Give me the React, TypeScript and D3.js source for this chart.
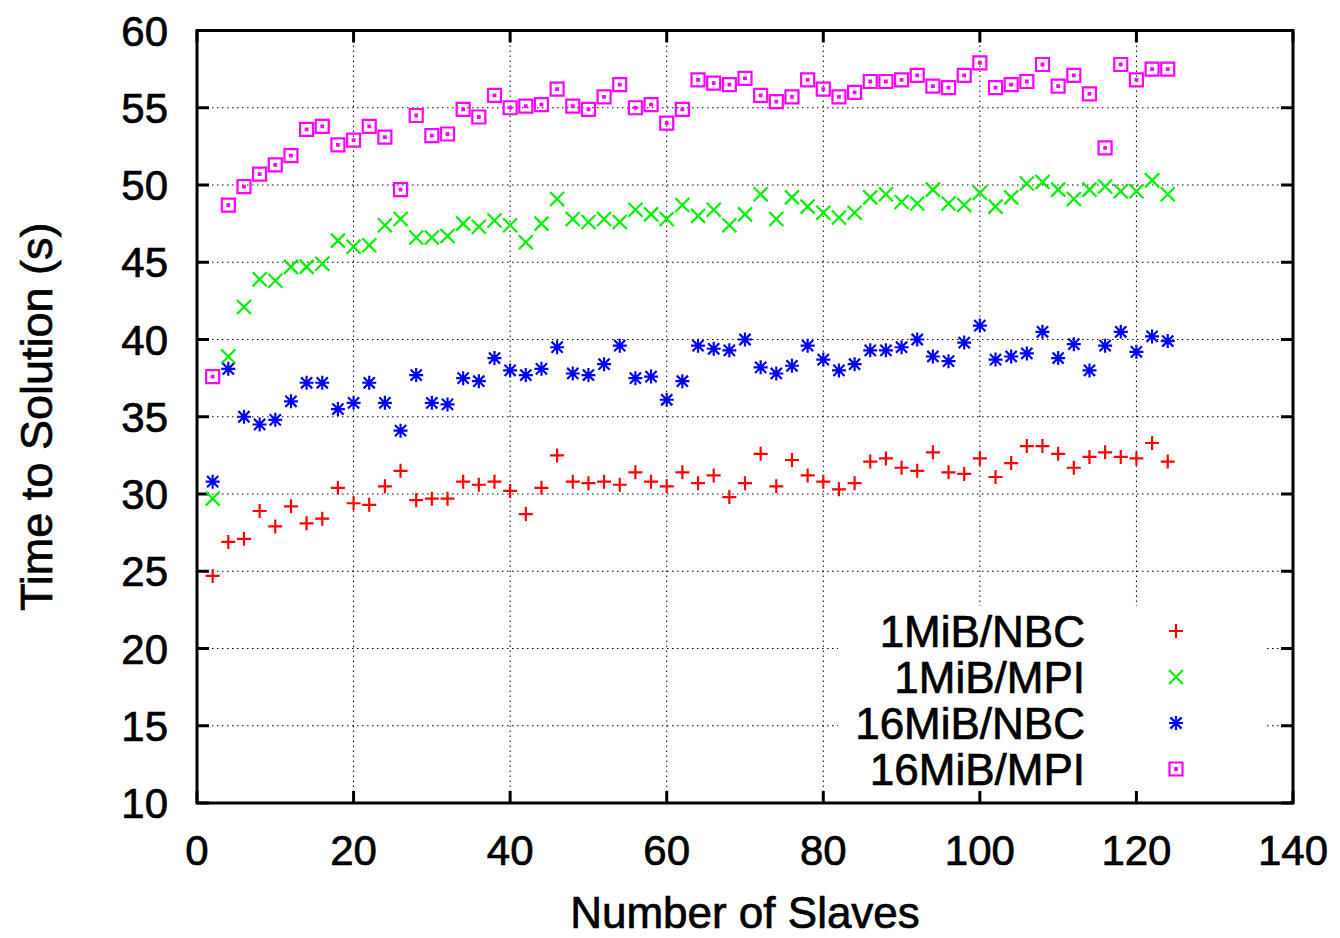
import React, { useEffect, useRef } from 'react';
import * as d3 from 'd3';

// number of slaves on the x axis
const slaves = [
  2, 4, 6, 8, 10, 12, 14, 16, 18, 20, 22, 24, 26, 28, 30, 32, 34, 36, 38, 40, 42,
  44, 46, 48, 50, 52, 54, 56, 58, 60, 62, 64, 66, 68, 70, 72, 74, 76, 78, 80, 82,
  84, 86, 88, 90, 92, 94, 96, 98, 100, 102, 104, 106, 108, 110, 112, 114, 116,
  118, 120, 122, 124,
];

const nbc1 = [
  24.7, 26.9, 27.1, 28.9, 27.9, 29.2, 28.1, 28.4, 30.4, 29.4, 29.3, 30.5, 31.5,
  29.6, 29.7, 29.7, 30.8, 30.6, 30.8, 30.2, 28.7, 30.4, 32.5, 30.8, 30.7, 30.8,
  30.6, 31.4, 30.8, 30.5, 31.4, 30.7, 31.2, 29.8, 30.7, 32.6, 30.5, 32.2, 31.2,
  30.8, 30.3, 30.7, 32.1, 32.3, 31.7, 31.5, 32.7, 31.4, 31.3, 32.3, 31.1, 32.0,
  33.1, 33.1, 32.6, 31.7, 32.4, 32.7, 32.4, 32.3, 33.3, 32.1,
];

const mpi1 = [
  29.7, 38.9, 42.1, 43.9, 43.8, 44.7, 44.7, 44.9, 46.4, 46.0, 46.1, 47.4, 47.8,
  46.6, 46.6, 46.7, 47.5, 47.3, 47.7, 47.4, 46.3, 47.5, 49.1, 47.8, 47.6, 47.8,
  47.6, 48.4, 48.1, 47.8, 48.7, 48.0, 48.4, 47.4, 48.1, 49.4, 47.8, 49.2, 48.6,
  48.2, 47.9, 48.2, 49.2, 49.4, 48.9, 48.8, 49.7, 48.8, 48.7, 49.5, 48.6, 49.2,
  50.1, 50.2, 49.7, 49.1, 49.7, 49.9, 49.6, 49.6, 50.3, 49.4,
];

const nbc16 = [
  30.8, 38.1, 35.0, 34.5, 34.8, 36.0, 37.2, 37.2, 35.5, 35.9, 37.2, 35.9, 34.1,
  37.7, 35.9, 35.8, 37.5, 37.3, 38.8, 38.0, 37.7, 38.1, 39.5, 37.8, 37.7, 38.4,
  39.6, 37.5, 37.6, 36.1, 37.3, 39.6, 39.4, 39.3, 40.0, 38.2, 37.8, 38.3, 39.6,
  38.7, 38.0, 38.4, 39.3, 39.3, 39.5, 40.0, 38.9, 38.6, 39.8, 40.9, 38.7, 38.9,
  39.1, 40.5, 38.8, 39.7, 38.0, 39.6, 40.5, 39.2, 40.2, 39.9,
];

const mpi16 = [
  37.6, 48.7, 49.9, 50.7, 51.3, 51.9, 53.6, 53.8, 52.6, 52.9, 53.8, 53.1, 49.7,
  54.5, 53.2, 53.3, 54.9, 54.4, 55.8, 55.0, 55.1, 55.2, 56.2, 55.1, 54.9, 55.7,
  56.5, 55.0, 55.2, 54.0, 54.9, 56.8, 56.6, 56.5, 56.9, 55.8, 55.4, 55.7, 56.8,
  56.2, 55.7, 56.0, 56.7, 56.7, 56.8, 57.1, 56.4, 56.3, 57.1, 57.9, 56.3, 56.5,
  56.7, 57.8, 56.4, 57.1, 55.9, 52.4, 57.8, 56.8, 57.5, 57.5,
];

const xTicks = [0, 20, 40, 60, 80, 100, 120, 140];
const yTicks = [10, 15, 20, 25, 30, 35, 40, 45, 50, 55, 60];

const seriesList = [
  { name: '1MiB/NBC', values: nbc1, color: '#ff0000', marker: 'plus' },
  { name: '1MiB/MPI', values: mpi1, color: '#00ee00', marker: 'cross' },
  { name: '16MiB/NBC', values: nbc16, color: '#0000ff', marker: 'star' },
  { name: '16MiB/MPI', values: mpi16, color: '#ff00ff', marker: 'box' },
];

const FONT = '"Liberation Sans", Arial, Helvetica, sans-serif';

// path for a gnuplot-like point symbol centred at (x, y)
const markerPath = (type: string, x: number, y: number) => {
  const p = d3.path();
  const s = 7;
  if (type === 'plus' || type === 'star') {
    p.moveTo(x - s, y); p.lineTo(x + s, y);
    p.moveTo(x, y - s); p.lineTo(x, y + s);
  }
  if (type === 'cross' || type === 'star') {
    const c = type === 'star' ? s * 0.8 : s;
    p.moveTo(x - c, y - c); p.lineTo(x + c, y + c);
    p.moveTo(x - c, y + c); p.lineTo(x + c, y - c);
  }
  if (type === 'box') {
    p.rect(x - 6.5, y - 6.5, 13, 13);
    p.rect(x - 0.8, y - 0.8, 1.6, 1.6);
  }
  return p.toString();
};

const App = () => {
  const ref = useRef<SVGSVGElement>(null);

  useEffect(() => {
    drawChart();
  }, []);

  const drawChart = () => {
    const svg = d3.select(ref.current);
    svg.selectAll('*').remove();

    const left = 197, right = 1293, top = 30.5, bottom = 803;

    const x = d3.scaleLinear().domain([0, 140]).range([left, right]);
    const y = d3.scaleLinear().domain([10, 60]).range([bottom, top]);

    const grid = svg.append('g')
      .attr('stroke', '#000')
      .attr('stroke-width', 1)
      .attr('stroke-dasharray', '1.5,3.5');

    xTicks.slice(1, -1).forEach(t => {
      grid.append('line')
        .attr('x1', x(t)).attr('x2', x(t))
        .attr('y1', top).attr('y2', bottom);
    });
    yTicks.slice(1, -1).forEach(t => {
      grid.append('line')
        .attr('x1', left).attr('x2', right)
        .attr('y1', y(t)).attr('y2', y(t));
    });

    // legend background hides the grid behind it
    svg.append('rect')
      .attr('x', 838).attr('y', 606)
      .attr('width', 427).attr('height', 185)
      .attr('fill', '#fff');

    // ticks on all four sides, pointing inward
    const ticks = svg.append('g').attr('stroke', '#000').attr('stroke-width', 3);
    const tl = 12;
    xTicks.forEach(t => {
      ticks.append('line').attr('x1', x(t)).attr('x2', x(t)).attr('y1', bottom).attr('y2', bottom - tl);
      ticks.append('line').attr('x1', x(t)).attr('x2', x(t)).attr('y1', top).attr('y2', top + tl);
    });
    yTicks.forEach(t => {
      ticks.append('line').attr('x1', left).attr('x2', left + tl).attr('y1', y(t)).attr('y2', y(t));
      ticks.append('line').attr('x1', right).attr('x2', right - tl).attr('y1', y(t)).attr('y2', y(t));
    });

    svg.append('rect')
      .attr('x', left).attr('y', top)
      .attr('width', right - left).attr('height', bottom - top)
      .attr('fill', 'none')
      .attr('stroke', '#000')
      .attr('stroke-width', 3);

    // all text is drawn a touch heavier, like the original
    const txt = svg.append('g')
      .attr('font-family', FONT)
      .attr('fill', '#000')
      .attr('stroke', '#000')
      .attr('stroke-width', 0.7);

    // tick labels
    txt.append('g').selectAll('text')
      .data(xTicks)
      .enter().append('text')
      .attr('x', d => x(d))
      .attr('y', 865)
      .attr('text-anchor', 'middle')
      .attr('font-size', 42)
      .text(d => d);

    txt.append('g').selectAll('text')
      .data(yTicks)
      .enter().append('text')
      .attr('x', 168)
      .attr('y', d => y(d) + 15)
      .attr('text-anchor', 'end')
      .attr('font-size', 42)
      .text(d => d);

    // axis titles
    txt.append('text')
      .attr('x', (left + right) / 2)
      .attr('y', 928)
      .attr('text-anchor', 'middle')
      .attr('font-size', 44)
      .text('Number of Slaves');

    txt.append('text')
      .attr('transform', `translate(52,${(top + bottom) / 2}) rotate(-90)`)
      .attr('text-anchor', 'middle')
      .attr('font-size', 45)
      .text('Time to Solution (s)');

    // points
    seriesList.forEach(s => {
      svg.append('g').selectAll('path')
        .data(s.values)
        .enter().append('path')
        .attr('d', (d, i) => markerPath(s.marker, x(slaves[i]), y(d)))
        .attr('fill', 'none')
        .attr('stroke', s.color)
        .attr('stroke-width', 2.2);
    });

    // legend
    seriesList.forEach((s, i) => {
      const ly = 631 + i * 46;
      txt.append('text')
        .attr('x', 1085)
        .attr('y', ly + 16)
        .attr('text-anchor', 'end')
        .attr('font-size', 44)
        .text(s.name);
      svg.append('path')
        .attr('d', markerPath(s.marker, 1176, ly))
        .attr('fill', 'none')
        .attr('stroke', s.color)
        .attr('stroke-width', 2.2);
    });
  };

  return (
    <svg
      ref={ref}
      width={1340}
      height={938}
      style={{ position: 'absolute', left: 0, top: 0, background: '#fff' }}
    />
  );
};

export default App;
